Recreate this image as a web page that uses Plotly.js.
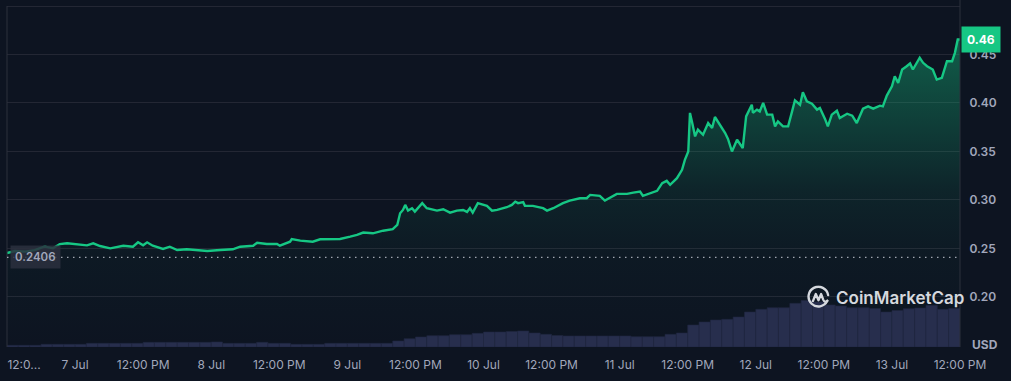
<!DOCTYPE html>
<html><head><meta charset="utf-8">
<script src="https://cdn.plot.ly/plotly-3.0.1.min.js"></script>
<style>html,body{margin:0;padding:0;background:#0d1421;overflow:hidden}#chart{width:1011px;height:381px}</style>
</head><body><div id="chart"></div>
<script>
// hours since 6 Jul 12:00
const priceHours = [
0,1.4,3.2,4.9,6.3,6.7,8.1,9.3,10.6,12.3,
14.1,15.2,16.4,18.2,20.5,22.2,23.1,24.0,24.7,25.7,
27.5,28.7,30.0,31.7,34.0,35.3,37.6,39.8,41.1,43.4,
44.1,45.8,47.6,48.1,49.9,50.2,51.7,53.9,55.2,57.5,
58.7,60.5,61.7,62.8,64.5,66.3,68.0,68.8,69.3,69.8,
70.2,70.7,71.4,71.9,73.2,74.0,75.1,75.8,76.9,78.1,
79.3,80.4,81.1,81.6,82.1,83.0,84.6,85.5,86.4,86.9,
88.1,89.0,89.6,90.1,91.0,91.3,92.7,94.5,95.2,96.3,
98.0,99.2,101.0,102.2,102.8,104.5,105.4,107.5,109.3,110.4,
111.6,112.1,113.3,114.6,115.5,116.3,116.9,118.1,119.0,119.5,
120.1,120.4,120.8,121.3,121.8,122.7,123.6,124.3,124.8,125.7,
126.6,127.1,127.8,128.7,129.7,130.3,131.3,131.5,132.2,132.7,
133.3,134.0,134.9,135.4,135.9,136.8,137.7,138.4,138.9,139.8,
140.3,141.0,141.9,142.8,143.3,144.2,144.7,145.4,146.3,146.8,
148.1,149.0,149.8,150.9,151.8,152.7,153.9,154.4,155.1,156.0,
156.5,157.1,157.8,158.6,159.2,159.7,160.9,161.5,162.2,163.2,
163.9,164.8,165.7,166.6,167.1,167.6,168.0];
const priceValues = [
0.2451,0.2472,0.2466,0.2482,0.2513,0.2517,0.2500,0.2544,0.2552,0.2541,
0.2531,0.2552,0.2524,0.2500,0.2527,0.2517,0.2562,0.2531,0.2562,0.2527,
0.2493,0.2517,0.2482,0.2490,0.2482,0.2472,0.2482,0.2490,0.2517,0.2527,
0.2558,0.2544,0.2544,0.2527,0.2568,0.2596,0.2579,0.2568,0.2593,0.2593,
0.2596,0.2620,0.2638,0.2663,0.2655,0.2682,0.2697,0.2741,0.2862,0.2896,
0.2948,0.2889,0.2914,0.2879,0.2966,0.2914,0.2903,0.2889,0.2903,0.2868,
0.2889,0.2896,0.2876,0.2914,0.2868,0.2966,0.2938,0.2889,0.2896,0.2903,
0.2924,0.2948,0.2982,0.2966,0.2976,0.2938,0.2938,0.2914,0.2889,0.2914,
0.2966,0.2992,0.3017,0.3017,0.3051,0.3041,0.2992,0.3062,0.3062,0.3075,
0.3086,0.3041,0.3069,0.3093,0.3172,0.3196,0.3155,0.3224,0.3310,0.3413,
0.3499,0.3897,0.3793,0.3655,0.3724,0.3672,0.3793,0.3741,0.3855,0.3776,
0.3690,0.3628,0.3499,0.3620,0.3535,0.3861,0.3982,0.3897,0.3931,0.3913,
0.4000,0.3879,0.3879,0.3758,0.3810,0.3758,0.3758,0.3913,0.4027,0.3982,
0.4110,0.4017,0.3993,0.3931,0.3948,0.3835,0.3758,0.3879,0.3920,0.3845,
0.3889,0.3869,0.3793,0.3941,0.3965,0.3941,0.3972,0.3965,0.4076,0.4172,
0.4275,0.4207,0.4345,0.4379,0.4407,0.4345,0.4466,0.4414,0.4379,0.4345,
0.4241,0.4259,0.4430,0.4430,0.4517,0.4655,0.4655];

const volumeHours = [
1,3,5,7,9,11,13,15,17,19,21,23,25,27,29,31,33,35,37,39,41,43,45,47,49,51,53,55,57,59,
61,63,65,67,69,71,73,75,77,79,81,83,85,87,89,91,93,95,97,99,101,103,105,107,109,111,113,115,117,119,
121,123,125,127,129,131,133,135,137,139,141,143,145,147,149,151,153,155,157,159,161,163,165,167];
// volume, millions USD (relative)
const volumeValues = [
1.7,1.7,1.7,2.7,2.7,2.7,2.7,3.7,3.7,3.7,3.7,3.7,4.7,4.7,4.7,4.7,4.7,4.7,5,3.7,
3.7,3.7,4.7,3.7,3.7,2.7,2.7,2.7,3.7,3.7,3.7,3.7,3.7,3.7,6,8.3,10,11.3,11.3,12.3,
12.3,13.7,15,15,15.5,16,14,12.7,11.5,11,11,11,11,11,11,10.3,10.3,10.3,12.7,14,
22,25,27,27.7,30,35,37.7,39.3,39.3,43.7,46.5,45,42,41,39.3,39.3,38.5,35,36.5,38.3,
39,41.7,37.7,38.5];

const xTickHours = [3,12,24,36,48,60,72,84,96,108,120,132,144,156,168];
const xTickLabels = ['12:0...','7 Jul','12:00 PM','8 Jul','12:00 PM','9 Jul','12:00 PM','10 Jul','12:00 PM','11 Jul','12:00 PM','12 Jul','12:00 PM','13 Jul','12:00 PM'];
const yTickValues = [0.20,0.25,0.30,0.35,0.40,0.45,0.50];
const yTickLabels = ['0.20','0.25','0.30','0.35','0.40','0.45',''];
const openPrice = 0.2406;
const openPriceLabel = '0.2406';
const lastPriceLabel = '0.46';

const GREEN = '#16c784';
const TXT = '#a1a7bb';
const GRID = '#232734';
const FONT = 'Inter, "Noto Sans", sans-serif';
const yRange = [0.1482, 0.5062];

const logoSvg = "<svg xmlns='http://www.w3.org/2000/svg' viewBox='0 0 24 24'>" +
 "<path d='M20.6 15.2 A9.6 9.6 0 1 1 21.4 9.6' fill='none' stroke='#d5d8de' stroke-width='2.3' stroke-linecap='round'/>" +
 "<path d='M6.6 15.5 L9.4 8.6 L12 14.6 L14.6 8.6 L16.6 14 Q18 17.4 20.6 15.2' fill='none' stroke='#d5d8de' stroke-width='2.3' stroke-linecap='round' stroke-linejoin='round'/></svg>";
const logoUri = 'data:image/svg+xml;charset=utf-8,' + encodeURIComponent(logoSvg);

const traces = [
  {
    x: priceHours, y: priceValues, type: 'scatter', mode: 'lines',
    line: {color: GREEN, width: 2.4},
    fill: 'tozeroy',
    fillgradient: {type: 'vertical', start: yRange[0], stop: 0.47,
      colorscale: [[0,'rgba(22,199,132,0)'],[0.3,'rgba(22,199,132,0.03)'],[0.5,'rgba(22,199,132,0.09)'],[1,'rgba(22,199,132,0.42)']]},
    hoverinfo: 'skip', yaxis: 'y'
  },
  {
    x: volumeHours, y: volumeValues, type: 'bar', width: 2,
    marker: {color: '#272e4d', line: {width: 0.6, color: '#20263f'}},
    hoverinfo: 'skip', yaxis: 'y2'
  }
];

const layout = {
  width: 1011, height: 381,
  paper_bgcolor: '#0d1421', plot_bgcolor: '#0d1421',
  margin: {l: 7, r: 51, t: 0, b: 34},
  showlegend: false,
  font: {family: FONT, color: TXT, size: 12},
  xaxis: {
    range: [0, 168], tickvals: xTickHours, ticktext: xTickLabels,
    showgrid: false, zeroline: false, showline: false,
    ticks: 'outside', ticklen: 7, tickcolor: 'rgba(0,0,0,0)',
    tickfont: {family: FONT, size: 12, color: TXT}
  },
  yaxis: {
    range: yRange, side: 'right', tickvals: yTickValues, ticktext: yTickLabels,
    showgrid: true, gridcolor: GRID, gridwidth: 1, zeroline: false, showline: false,
    ticks: 'outside', ticklen: 6, tickcolor: 'rgba(0,0,0,0)',
    tickfont: {family: FONT, size: 12, color: TXT, weight: 600}
  },
  yaxis2: {overlaying: 'y', range: [0, 347], visible: false, fixedrange: true},
  bargap: 0,
  shapes: [
    {type: 'line', xref: 'paper', yref: 'y', x0: 0, x1: 0, y0: yRange[0], y1: 0.5, line: {color: '#2c303c', width: 1}},
    {type: 'line', xref: 'paper', yref: 'paper', x0: 1, x1: 1, y0: 0, y1: 1, line: {color: '#2c303c', width: 1}},
    {type: 'line', xref: 'paper', yref: 'y', x0: 0, x1: 1, y0: openPrice, y1: openPrice, line: {color: 'rgba(210,214,224,0.75)', width: 1.2, dash: '1.5px,4.5px'}}
  ],
  images: [
    {source: logoUri, xref: 'paper', yref: 'paper', x: 0.8385, y: 0.178, sizex: 0.026, sizey: 0.071, xanchor: 'left', yanchor: 'top', layer: 'above'}
  ],
  annotations: [
    {xref: 'paper', yref: 'paper', x: 0.8675, y: 0.141, xanchor: 'left', yanchor: 'middle', showarrow: false,
     text: 'CoinMarketCap', font: {family: FONT, size: 17, color: '#d5d8de', weight: 600}},
    {xref: 'paper', yref: 'y', x: 0, y: openPrice, xanchor: 'left', yanchor: 'middle', xshift: 3, showarrow: false,
     text: openPriceLabel, bgcolor: 'rgba(44,48,62,0.85)', borderpad: 4,
     font: {family: FONT, size: 11.5, color: TXT, weight: 600}},
    {xref: 'paper', yref: 'y', x: 1, y: priceValues[priceValues.length-1], xanchor: 'left', yanchor: 'middle', xshift: 1, showarrow: false,
     text: lastPriceLabel, bgcolor: GREEN, borderpad: 5,
     font: {family: FONT, size: 12, color: '#ffffff', weight: 700}},
    {xref: 'paper', yref: 'paper', x: 1.0262, y: 0.008, xanchor: 'center', yanchor: 'middle', showarrow: false,
     text: 'USD', font: {family: FONT, size: 12, color: TXT, weight: 700}}
  ]
};

Plotly.newPlot('chart', traces, layout, {displayModeBar: false, staticPlot: true});
</script>
</body></html>
